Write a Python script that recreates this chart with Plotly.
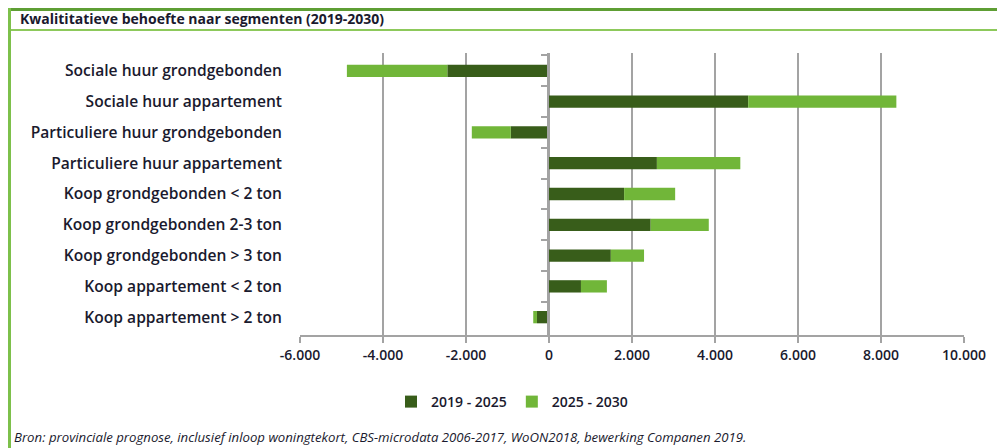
import plotly.graph_objects as go

categories = [
    "Sociale huur grondgebonden",
    "Sociale huur appartement",
    "Particuliere huur grondgebonden",
    "Particuliere huur appartement",
    "Koop grondgebonden < 2 ton",
    "Koop grondgebonden 2-3 ton",
    "Koop grondgebonden > 3 ton",
    "Koop appartement < 2 ton",
    "Koop appartement > 2 ton",
]
series_2019_2025 = [-2450, 4800, -920, 2600, 1810, 2450, 1490, 770, -290]
series_2025_2030 = [-2420, 3570, -940, 2010, 1230, 1400, 800, 625, -90]
tick_vals = [-6000, -4000, -2000, 0, 2000, 4000, 6000, 8000, 10000]
tick_text = ["-6.000", "-4.000", "-2.000", "0", "2.000", "4.000", "6.000", "8.000", "10.000"]

title_text = "Kwalititatieve behoefte naar segmenten (2019-2030)"
source_text = ("Bron: provinciale prognose, inclusief inloop woningtekort, CBS-microdata 2006-2017, "
               "WoON2018, bewerking Companen 2019.")

DARK = "#385D1A"
LIGHT = "#71B639"
GRID = "#A3A3A3"
TXT = "#1A1A2E"
FONT = "Open Sans"

# the page body adds an 8px margin; work in page pixels and shift by it
OFF = 8
W, H = 1005 - OFF, 448 - OFF
L, R, T, B = 300 - OFF, 964 - OFF, 53 - OFF, 335 - OFF


def px(x):
    return (x - OFF - L) / (R - L)


def py(y):
    return (B - (y - OFF)) / (B - T)


fig = go.Figure()
fig.add_trace(go.Bar(name="2019 - 2025", y=categories, x=series_2019_2025, orientation="h",
                     marker=dict(color=DARK, line=dict(width=0))))
fig.add_trace(go.Bar(name="2025 - 2030", y=categories, x=series_2025_2030, orientation="h",
                     marker=dict(color=LIGHT, line=dict(width=0))))
# invisible helper trace so that the zero-axis with boundary ticks is drawn
fig.add_trace(go.Scatter(y=categories, x=[0] * len(categories), yaxis="y2", mode="markers",
                         marker=dict(opacity=0), showlegend=False, hoverinfo="skip"))

shapes = [
    dict(type="line", xref="paper", yref="paper", x0=px(8), x1=px(1005), y0=py(9.5), y1=py(9.5),
         line=dict(color="#5E9E34", width=3)),
    dict(type="line", xref="paper", yref="paper", x0=px(9), x1=px(1005), y0=py(30), y1=py(30),
         line=dict(color="#8DC95B", width=2)),
    dict(type="line", xref="paper", yref="paper", x0=px(9.5), x1=px(9.5), y0=py(8), y1=py(448),
         line=dict(color="#7DC04B", width=3)),
]

fig.update_layout(
    width=W, height=H,
    margin=dict(l=L, r=W - R, t=T, b=H - B, autoexpand=False),
    paper_bgcolor="white", plot_bgcolor="white",
    barmode="relative", bargap=0.6,
    font=dict(family=FONT, size=14, color=TXT),
    showlegend=True,
    legend=dict(orientation="h", x=px(512), xanchor="center", y=py(402), yanchor="middle",
                font=dict(family=FONT, size=14, color=TXT, weight=600), itemwidth=30,
                traceorder="normal"),
    xaxis=dict(range=[-6000, 10000], tickvals=tick_vals, ticktext=tick_text,
               showgrid=True, gridcolor=GRID, gridwidth=2, zeroline=False,
               showline=True, linecolor=GRID, linewidth=2,
               ticks="outside", ticklen=6, tickcolor=GRID, tickwidth=2,
               tickfont=dict(family=FONT, size=14, color=TXT, weight=600)),
    yaxis=dict(autorange="reversed", type="category", showgrid=False, zeroline=False,
               showline=False, ticks="", ticklabelstandoff=17,
               tickfont=dict(family=FONT, size=15.6, color=TXT, weight=600)),
    yaxis2=dict(matches="y", overlaying="y", anchor="free", position=px(548), side="left",
                showgrid=False, zeroline=False, showline=True, linecolor=GRID, linewidth=2,
                ticks="outside", ticklen=6, tickcolor=GRID, tickwidth=2,
                tickson="boundaries", showticklabels=False),
    shapes=shapes,
    annotations=[
        dict(text="<b>" + title_text + "</b>", xref="paper", yref="paper", x=px(18), y=py(19),
             xanchor="left", yanchor="middle", showarrow=False,
             font=dict(family=FONT, size=14, color=TXT)),
        dict(text="<i>" + source_text + "</i>", xref="paper", yref="paper", x=px(12), y=py(437),
             xanchor="left", yanchor="middle", showarrow=False,
             font=dict(family=FONT, size=13.2, color=TXT)),
    ],
)

fig.write_html("out.html")
